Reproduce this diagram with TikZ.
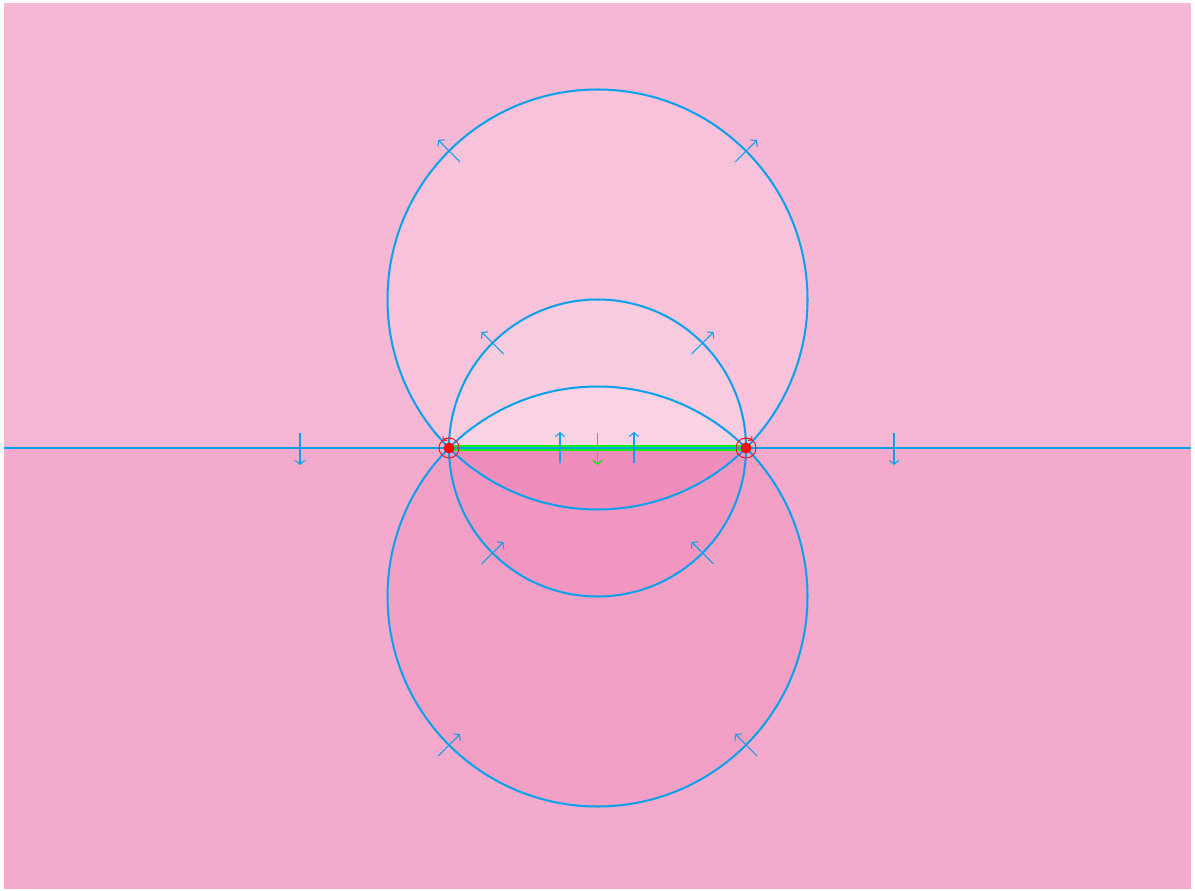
\documentclass[tikz,border=0pt]{standalone}
\usepackage{tikz}
\usetikzlibrary{arrows.meta}
\definecolor{skyline}{HTML}{08A2EC}
\definecolor{segreen}{HTML}{10F010}
\definecolor{flowgreen}{HTML}{10E810}
\definecolor{polered}{HTML}{FF0A0A}
\definecolor{upperbg}{HTML}{F6B7D4}
\definecolor{lowerbg}{HTML}{F3AACC}
\definecolor{lowertint}{HTML}{F066A8}
\tikzset{
  circ/.style={draw=skyline,line width=1.15pt},
  flow/.style={-{Straight Barb[length=2.2pt,width=5.4pt]},line width=0.6pt,#1},
  flow/.default=skyline,
  spin/.style={polered,line width=0.5pt},
  lighten/.style={fill=white,opacity=0.16},
  darken/.style={fill=lowertint,opacity=0.16},
}

\begin{document}
\begin{tikzpicture}[x=0.02cm,y=0.02cm]
    \useasboundingbox (0,0) rectangle (1195,890);
    % poles, centres, ends of the axis
    \coordinate (A) at (449,442);
    \coordinate (B) at (746,442);
    \coordinate (Uc) at (597.5,590.5);
    \coordinate (Sc) at (597.5,442);
    \coordinate (Lc) at (597.5,293.5);
    \coordinate (west) at (4,442);
    \coordinate (east) at (1191,442);
    % half planes
    \fill[upperbg] (4,442) rectangle (1191,887);
    \fill[lowerbg] (4,1) rectangle (1191,442);
    % discs, upper half lighter
    \begin{scope}
      \clip (4,442) rectangle (1191,887);
      \fill[lighten] (Uc) circle (210);
      \fill[lighten] (Sc) circle (148.5);
      \fill[lighten] (Lc) circle (210);
    \end{scope}
    % discs, lower half darker
    \begin{scope}
      \clip (4,1) rectangle (1191,442);
      \fill[darken] (Uc) circle (210);
      \fill[darken] (Sc) circle (148.5);
      \fill[darken] (Lc) circle (210);
    \end{scope}
    % real axis and segment
    \draw[segreen,line width=3.6pt] (A) -- (B);
    \draw[skyline,line width=1.15pt] (west) -- (east);
    % circles through the poles
    \draw[circ] (Uc) circle (210);
    \draw[circ] (Sc) circle (148.5);
    \draw[circ] (Lc) circle (210);
    % flow marks on the axis
    \draw[flow] (300,457) -- ++(0,-32);
    \draw[flow] (894,457) -- ++(0,-32);
    \draw[flow] (560,427) -- ++(0,31);
    \draw[flow] (634,427) -- ++(0,31);
    \draw[flow=flowgreen,line width=0.75pt] (597.5,457) -- ++(0,-32);
    % flow marks on the circles
    \foreach \c/\r/\ang/\dir in {Uc/210/135/135, Uc/210/45/45,
        Sc/148.5/135/135, Sc/148.5/45/45, Sc/148.5/225/45, Sc/148.5/315/135,
        Lc/210/225/45, Lc/210/315/135}{
      \path (\c) ++(\ang:\r) coordinate (p);
      \draw[flow] (p) ++({\dir+180}:15.5) -- ++(\dir:31);
    }
    % poles with their turning marks
    \draw[spin] (A) circle (10);
    \draw[spin] (B) circle (10);
    \draw[spin,-{Straight Barb[length=1.5pt,width=3.2pt]}] (A) ++(80:10) arc (80:130:10);
    \draw[spin,-{Straight Barb[length=1.5pt,width=3.2pt]}] (B) ++(100:10) arc (100:50:10);
    \fill[polered] (A) circle (5.5);
    \fill[polered] (B) circle (5.5);
\end{tikzpicture}
\end{document}
